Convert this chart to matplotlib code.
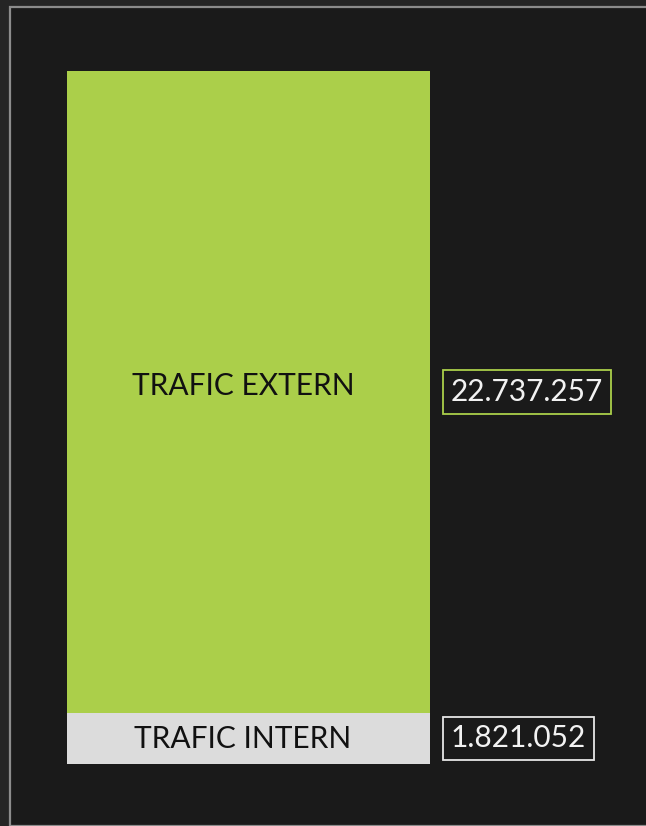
import matplotlib.pyplot as plt
from matplotlib.patches import Rectangle

categories = ['TRAFIC INTERN', 'TRAFIC EXTERN']
values = [1821052, 22737257]
value_labels = ['1.821.052', '22.737.257']
colors = ['#dcdcdc', '#abcf4a']
box_edges = ['#e6e6e6', '#abcf4a']

W, H = 646, 826
fig = plt.figure(figsize=(W / 100, H / 100), dpi=100)
fig.patch.set_facecolor('#252525')

# panel with grey border top/left
panel = Rectangle((10 / W, 0), 1, (H - 7) / H, transform=fig.transFigure,
                  facecolor='#1a1a1a', edgecolor='#8c8c8c', linewidth=1.6,
                  zorder=-10)
fig.patches.append(panel)

ax = fig.add_axes([67 / W, (H - 764) / H, (430 - 67) / W, (764 - 71) / H])
ax.set_zorder(5)
ax.set_facecolor('none')
ax.axis('off')

label_shift = [-0.5, 4.5]   # points, nudges label vertically

total = sum(values)
bottom = 0
for i, (cat, val, lab, col, edge) in enumerate(zip(categories, values, value_labels, colors, box_edges)):
    ax.bar(0, val, width=1, bottom=bottom, color=col, linewidth=0)
    mid = bottom + val / 2
    ax.annotate(cat, xy=(0, mid), xytext=(-4, label_shift[i]), textcoords='offset points',
                ha='center', va='center', fontsize=21.5, family='Lato', color='#111111')
    ax.annotate(lab, xy=(0.5, mid), xytext=(15, 0), textcoords='offset points',
                ha='left', va='center', fontsize=21.5, family='Lato',
                color='#f2f2f2', annotation_clip=False,
                bbox=dict(boxstyle='square,pad=0.26', facecolor='none',
                          edgecolor=edge, linewidth=1.3))
    bottom += val

ax.set_xlim(-0.5, 0.5)
ax.set_ylim(0, total)

fig.savefig('out.png', dpi=100, facecolor=fig.get_facecolor())
